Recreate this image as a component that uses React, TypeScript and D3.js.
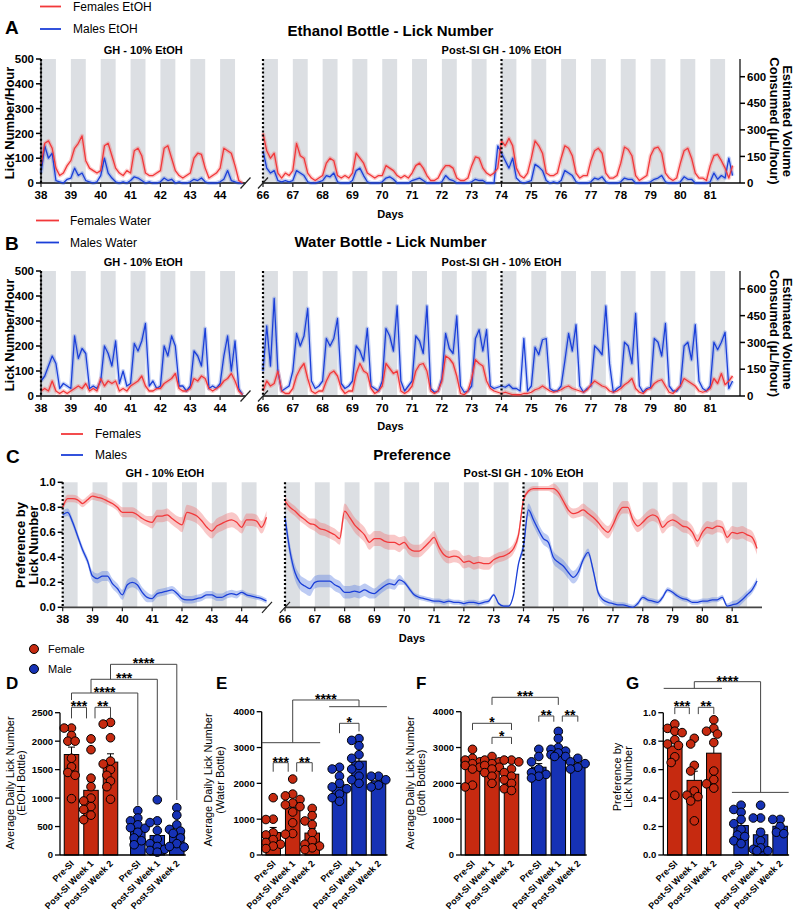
import * as d3 from "d3";

const FONT = "'Liberation Sans', Arial, Helvetica, sans-serif";

// ---------- A: ethanol bottle, licks/hour, 8 readings a day (3 h bins) ----------
const femalesEtohPre = [
  70, 160, 170, 140, 60, 30, 40, 70, // 38
  90, 140, 160, 190, 90, 60, 50, 40, // 39
  50, 150, 160, 110, 60, 40, 30, 50, // 40
  40, 130, 140, 110, 40, 30, 30, 40, // 41
  50, 140, 150, 100, 50, 30, 20, 30, // 42
  40, 100, 120, 115, 60, 20, 30, 40, // 43
  60, 140, 130, 120, 70, 10, 0, // 44
];
const malesEtohPre = [
  40, 150, 100, 120, 10, 5, 0, 15,
  20, 60, 30, 40, 10, 5, 0, 5,
  30, 100, 40, 20, 5, 0, 5, 0,
  10, 25, 20, 10, 0, 5, 0, 0,
  5, 20, 10, 15, 0, 5, 0, 0,
  5, 15, 10, 20, 5, 0, 0, 0,
  5, 15, 50, 10, 5, 0, 0,
];
const femalesEtohPost = [
  200, 130, 100, 120, 40, 20, 40, 30, // 66
  50, 160, 110, 100, 40, 20, 10, 20, // 67
  30, 80, 100, 90, 30, 20, 30, 20, // 68
  40, 120, 100, 80, 40, 30, 20, 30, // 69
  30, 70, 60, 50, 30, 20, 30, 20, // 70
  40, 70, 80, 60, 30, 10, 10, 20, // 71
  50, 70, 70, 60, 20, 10, 10, 20, // 72
  70, 105, 100, 60, 40, 30, 40, 60, // 73
  170, 150, 180, 150, 60, 30, 20, 40, // 74
  100, 170, 150, 120, 40, 30, 30, 40, // 75
  100, 150, 140, 110, 40, 20, 30, 30, // 76
  90, 130, 140, 120, 40, 20, 20, 30, // 77
  80, 145, 135, 110, 30, 10, 20, 30, // 78
  110, 140, 145, 120, 40, 20, 10, 20, // 79
  80, 130, 140, 100, 40, 20, 20, 10, // 80
  70, 110, 115, 90, 60, 20, 70, // 81
];
const malesEtohPost = [
  130, 60, 40, 50, 10, 5, 10, 5,
  10, 50, 40, 30, 5, 0, 0, 5,
  10, 30, 25, 40, 5, 0, 0, 0,
  10, 50, 60, 30, 5, 0, 0, 0,
  5, 20, 25, 15, 0, 0, 0, 0,
  10, 15, 20, 10, 0, 0, 0, 0,
  5, 30, 15, 10, 0, 0, 0, 0,
  5, 15, 10, 10, 0, 0, 0, 150,
  120, 90, 60, 100, 20, 5, 0, 5,
  10, 75, 65, 50, 10, 0, 5, 0,
  10, 50, 40, 30, 5, 0, 0, 0,
  5, 20, 15, 25, 5, 0, 0, 0,
  5, 20, 15, 15, 0, 0, 0, 0,
  5, 15, 20, 30, 5, 0, 0, 0,
  5, 25, 15, 15, 0, 0, 0, 0,
  5, 40, 15, 30, 20, 100, 30,
];

// ---------- B: water bottle, licks/hour ----------
const femalesWaterPre = [
  20, 30, 20, 60, 20, 10, 20, 10,
  20, 30, 40, 30, 50, 20, 30, 20,
  70, 40, 60, 50, 60, 20, 30, 20,
  40, 50, 60, 80, 40, 20, 20, 30,
  30, 50, 60, 70, 90, 30, 20, 20,
  30, 70, 60, 80, 70, 30, 20, 30,
  40, 60, 70, 90, 60, 20, 5,
];
const malesWaterPre = [
  60, 80, 120, 160, 130, 30, 50, 40,
  30, 240, 150, 190, 170, 30, 40, 30,
  60, 200, 170, 120, 220, 50, 100, 40,
  50, 210, 180, 220, 290, 40, 60, 30,
  40, 200, 160, 240, 200, 40, 40, 20,
  40, 180, 160, 120, 270, 30, 40, 30,
  50, 160, 240, 100, 220, 30, 5,
];
const femalesWaterPost = [
  20, 60, 40, 50, 100, 20, 10, 10,
  30, 80, 110, 130, 70, 20, 10, 20,
  20, 60, 90, 100, 80, 30, 10, 20,
  20, 90, 130, 100, 90, 30, 10, 20,
  40, 130, 110, 90, 100, 20, 10, 20,
  40, 100, 125, 130, 100, 20, 10, 20,
  60, 160, 150, 130, 80, 10, 5, 20,
  70, 145, 130, 120, 60, 30, 20, 15,
  10, 15, 10, 5, 5, 5, 10, 10,
  15, 25, 30, 40, 30, 20, 15, 20,
  25, 35, 40, 30, 25, 20, 15, 25,
  45, 60, 50, 40, 35, 20, 15, 20,
  30, 45, 55, 70, 30, 15, 10, 25,
  30, 50, 60, 65, 40, 15, 10, 25,
  40, 70, 60, 50, 40, 20, 15, 20,
  30, 70, 50, 90, 45, 60, 80,
];
const malesWaterPost = [
  100, 280, 120, 390, 100, 20, 30, 40,
  100, 250, 200, 240, 350, 60, 30, 40,
  60, 230, 200, 230, 310, 50, 30, 40,
  60, 200, 180, 140, 270, 40, 30, 20,
  60, 270, 240, 180, 360, 60, 20, 40,
  60, 240, 220, 170, 360, 30, 15, 20,
  70, 250, 190, 170, 320, 40, 15, 20,
  40, 230, 265, 180, 265, 40, 30, 35,
  40, 35, 45, 30, 30, 20, 230, 20,
  40, 195, 165, 225, 230, 30, 20, 20,
  40, 140, 250, 180, 285, 40, 15, 30,
  40, 200, 185, 165, 360, 130, 15, 30,
  40, 215, 200, 130, 330, 40, 15, 30,
  35, 230, 215, 160, 290, 40, 20, 20,
  40, 200, 215, 145, 285, 60, 30, 20,
  40, 215, 185, 215, 255, 30, 60,
];

// ---------- C: preference, 6 readings a day (4 h bins), SEM per day ----------
const femalesPrefPre = [
  0.8, 0.87, 0.87, 0.86, 0.83, 0.86,
  0.89, 0.88, 0.87, 0.85, 0.83, 0.8,
  0.76, 0.76, 0.76, 0.74, 0.71, 0.69,
  0.68, 0.73, 0.73, 0.74, 0.71, 0.68,
  0.66, 0.76, 0.75, 0.73, 0.69, 0.64,
  0.61, 0.65, 0.67, 0.69, 0.7, 0.68,
  0.64, 0.7, 0.7, 0.69, 0.64, 0.72,
];
const malesPrefPre = [
  0.74, 0.76, 0.68, 0.57, 0.46, 0.37,
  0.25, 0.23, 0.25, 0.25, 0.19, 0.15,
  0.1, 0.18, 0.2, 0.18, 0.12, 0.08,
  0.07, 0.11, 0.12, 0.13, 0.14, 0.11,
  0.07, 0.06, 0.06, 0.07, 0.08, 0.1,
  0.1, 0.08, 0.08, 0.1, 0.11, 0.1,
  0.12, 0.1, 0.09, 0.08, 0.07, 0.05,
];
const femalesPrefPost = [
  0.85, 0.8, 0.77, 0.73, 0.7, 0.67,
  0.66, 0.63, 0.62, 0.6, 0.58, 0.55,
  0.77, 0.72, 0.66, 0.62, 0.58, 0.52,
  0.55, 0.55, 0.53, 0.52, 0.52, 0.5,
  0.52, 0.47, 0.45, 0.45, 0.48, 0.52,
  0.56, 0.48, 0.42, 0.4, 0.41, 0.4,
  0.36, 0.37, 0.35, 0.36, 0.35, 0.35,
  0.38, 0.4, 0.41, 0.43, 0.47, 0.58,
  0.86, 0.93, 0.95, 0.95, 0.95, 0.95,
  0.95, 0.92, 0.85, 0.78, 0.75, 0.76,
  0.78, 0.75, 0.72, 0.68, 0.63, 0.6,
  0.66, 0.75, 0.8, 0.8, 0.7, 0.65,
  0.68, 0.72, 0.74, 0.72, 0.64, 0.68,
  0.7, 0.68, 0.65, 0.64, 0.6, 0.53,
  0.6, 0.64, 0.63, 0.65, 0.64, 0.56,
  0.6, 0.59, 0.6, 0.58, 0.56, 0.47,
];
const malesPrefPost = [
  0.72, 0.45, 0.28, 0.2, 0.17, 0.15,
  0.2, 0.21, 0.21, 0.21, 0.18, 0.16,
  0.12, 0.12, 0.13, 0.12, 0.14, 0.12,
  0.11, 0.14, 0.17, 0.19, 0.18, 0.22,
  0.2, 0.15, 0.1, 0.08, 0.07, 0.06,
  0.05, 0.05, 0.04, 0.05, 0.04, 0.04,
  0.03, 0.04, 0.04, 0.03, 0.04, 0.05,
  0.1, 0.03, 0.01, 0.01, 0.1, 0.35,
  0.49, 0.78, 0.7, 0.62, 0.55, 0.52,
  0.4, 0.36, 0.33, 0.28, 0.24, 0.28,
  0.38, 0.44, 0.3, 0.12, 0.06, 0.04,
  0.03, 0.02, 0.02, 0.01, 0.0, 0.03,
  0.08, 0.06, 0.05, 0.04, 0.08, 0.14,
  0.12, 0.09, 0.07, 0.06, 0.04, 0.04,
  0.05, 0.05, 0.06, 0.06, 0.08, 0.01,
  0.02, 0.03, 0.06, 0.1, 0.14, 0.21,
];
const femalesPrefSemPre = [0.03, 0.03, 0.04, 0.05, 0.06, 0.06, 0.05];
const femalesPrefSemPost = [0.04, 0.05, 0.06, 0.06, 0.05, 0.05, 0.05, 0.04, 0.02, 0.04, 0.05, 0.05, 0.05, 0.05, 0.05, 0.05];
const malesPrefSemPre = [0.03, 0.04, 0.04, 0.03, 0.03, 0.03, 0.02];
const malesPrefSemPost = [0.06, 0.05, 0.05, 0.04, 0.02, 0.02, 0.02, 0.01, 0.05, 0.05, 0.03, 0.02, 0.02, 0.02, 0.02, 0.03];

// axes
const daysPre = d3.range(38, 45);
const daysPost = d3.range(66, 82);
const PRE_DOMAIN: [number, number] = [38, 44.85];
const POST_DOMAIN: [number, number] = [66, 82];
const lickTicks = [0, 100, 200, 300, 400, 500];
const volumeTicks = [0, 150, 300, 450, 600];
const prefTicks = [0, 0.2, 0.4, 0.6, 0.8, 1.0];

// ---------- D–G: per-animal averages ----------
const categories = ["Pre-SI", "Post-SI Week 1", "Post-SI Week 2", "Pre-SI", "Post-SI Week 1", "Post-SI Week 2"];
const catPos = [0, 1, 2, 3.4, 4.4, 5.4];

const etohFemale = [
  [2230, 2230, 2100, 2000, 2000, 1700, 1550, 1450, 1400, 990],
  [2040, 1850, 1350, 1200, 1000, 950, 850, 800, 700, 620],
  [2330, 2300, 2060, 1650, 1600, 1500, 1400, 1300, 1200, 980],
];
const etohMale = [
  [780, 650, 600, 530, 480, 470, 400, 300, 250, 180],
  [970, 600, 570, 430, 280, 200, 150, 100, 80, 50],
  [830, 700, 530, 450, 420, 380, 300, 200, 150, 140],
];
const waterFemale = [
  [1600, 1000, 990, 620, 560, 430, 350, 300, 250, 180],
  [2120, 1700, 1650, 1550, 1450, 1400, 1350, 1200, 900, 600, 580],
  [1300, 1100, 950, 850, 620, 400, 300, 250, 200, 150],
];
const waterMale = [
  [2450, 2400, 2200, 2000, 1900, 1850, 1700, 1600, 1500],
  [3250, 3200, 3050, 2800, 2700, 2500, 2400, 2200, 2100, 2000],
  [2200, 2200, 2100, 1950, 1900],
];
const bothFemale = [
  [2950, 2700, 2650, 2600, 2550, 2500, 2450, 2400, 1950, 1900],
  [2750, 2650, 2600, 2550, 2500, 2450, 2400, 2300, 2200, 2000],
  [2650, 2650, 2600, 2400, 2300, 2200, 2100, 2000, 1850, 1800],
];
const bothMale = [
  [2950, 2750, 2600, 2400, 2300, 2250, 2200, 2150],
  [3450, 3250, 3000, 2950, 2900, 2850, 2800, 2750, 2750],
  [2700, 2600, 2550, 2450, 2400],
];
const prefFemale = [
  [0.92, 0.89, 0.87, 0.86, 0.81, 0.78, 0.77, 0.69, 0.65, 0.42],
  [0.82, 0.78, 0.63, 0.59, 0.45, 0.42, 0.41, 0.38, 0.24],
  [0.95, 0.89, 0.87, 0.85, 0.79, 0.59, 0.53, 0.5, 0.47],
];
const prefMale = [
  [0.35, 0.32, 0.3, 0.25, 0.22, 0.18, 0.14, 0.13, 0.1, 0.08],
  [0.35, 0.26, 0.26, 0.16, 0.1, 0.05, 0.04, 0.03, 0.03],
  [0.25, 0.25, 0.2, 0.16, 0.15],
];

type Bracket = { a: number; b: number; level: number; legA: number; legB: number; label: string; dxA?: number; dxB?: number };
type GroupLine = { from: number; to: number; level: number };

const etohBrackets: Bracket[] = [
  { a: 0, b: 1, dxB: -4.5, level: 2595, legA: 2400, legB: 2400, label: "***" },
  { a: 1, b: 2, dxA: 4, level: 2595, legA: 2400, legB: 2400, label: "**" },
  { a: 0, b: 3, level: 2846, legA: 2723, legB: 870, label: "****" },
  { a: 1, b: 4, level: 3087, legA: 2846, legB: 1025, label: "***" },
  { a: 2, b: 5, level: 3350, legA: 3087, legB: 966, label: "****" },
];
const waterBrackets: Bracket[] = [
  { a: 1, b: 4, level: 4327, legA: 3135, legB: 4140, label: "****" },
  { a: 0, b: 1, dxB: -4.5, level: 2577, legA: 2325, legB: 2325, label: "***" },
  { a: 1, b: 2, dxA: 4, level: 2577, legA: 2325, legB: 2325, label: "**" },
  { a: 3, b: 4, level: 3676, legA: 3400, legB: 3450, label: "*" },
];
const waterGroupLines: GroupLine[] = [
  { from: -0.58, to: 2.41, level: 3135 },
  { from: 2.87, to: 5.83, level: 4140 },
];
const bothBrackets: Bracket[] = [
  { a: 1, b: 4, level: 4402, legA: 4190, legB: 4190, label: "***" },
  { a: 0, b: 2, level: 3676, legA: 3490, legB: 3490, label: "*" },
  { a: 1, b: 2, level: 3285, legA: 3098, legB: 3098, label: "*" },
  { a: 3, b: 4, dxB: -4.5, level: 3880, legA: 3721, legB: 3721, label: "**" },
  { a: 4, b: 5, dxA: 4, level: 3880, legA: 3721, legB: 3721, label: "**" },
];
const prefBrackets: Bracket[] = [
  { a: 1, b: 4, level: 1.218, legA: 1.171, legB: 0.44, label: "****" },
  { a: 0, b: 1, dxB: -5, level: 1.038, legA: 0.99, legB: 0.99, label: "***" },
  { a: 1, b: 2, dxA: 4, level: 1.038, legA: 0.99, legB: 0.99, label: "**" },
];
const prefGroupLines: GroupLine[] = [
  { from: -0.57, to: 2.42, level: 1.171 },
  { from: 2.93, to: 5.84, level: 0.44 },
];

const RED_LINE = "#f2383a";
const BLUE_LINE = "#1b3fd8";
const RED_BAND = "rgba(242, 90, 90, 0.3)";
const BLUE_BAND = "rgba(70, 110, 225, 0.3)";
const RED_BAR = "#c62a10";
const BLUE_BAR = "#1632b5";
const GREY = "#dcdfe3";

type Series = {
  pre: number[];
  post: number[];
  perDay: number;
  color: string;
  band: string;
  semPre?: number[];
  semPost?: number[];
};

type Pt = { d: number; v: number; e: number };

function TimePanel(props: {
  top: number;
  bottom: number;
  xPre: [number, number];
  xPost: [number, number];
  yMax: number;
  yTicks: number[];
  yFmt: (v: number) => string;
  rightMax?: number;
  series: Series[];
  smooth?: boolean;
  axisDotted?: boolean;
}) {
  const { top, bottom, yMax, yTicks, yFmt, rightMax, series, smooth, axisDotted } = props;
  const xa = d3.scaleLinear().domain(PRE_DOMAIN).range(props.xPre);
  const xb = d3.scaleLinear().domain(POST_DOMAIN).range(props.xPost);
  const y = d3.scaleLinear().domain([0, yMax]).range([bottom, top]);
  const segs = [
    { x: xa, start: 38, days: daysPre, pre: true },
    { x: xb, start: 66, days: daysPost, pre: false },
  ];
  const curve = smooth ? d3.curveMonotoneX : d3.curveLinear;

  return (
    <g>
      {segs.map((seg, si) => (
        <g key={si}>
          {seg.days.map((d) => (
            <rect key={d} x={seg.x(d)} y={top} width={seg.x(d + 0.5) - seg.x(d)} height={bottom - top} fill={GREY} />
          ))}
          <line x1={seg.x.range()[0]} x2={seg.x.range()[1]} y1={bottom} y2={bottom} stroke="#444" strokeWidth={1.8} />
          {series.map((s, k) => {
            const vals = seg.pre ? s.pre : s.post;
            const sem = seg.pre ? s.semPre : s.semPost;
            const pts: Pt[] = vals.map((v, i) => ({
              d: seg.start + i / s.perDay,
              v,
              e: sem ? sem[Math.floor(i / s.perDay)] : 0,
            }));
            const line = d3.line<Pt>().x((p) => seg.x(p.d)).y((p) => y(p.v)).curve(curve);
            const area = d3
              .area<Pt>()
              .x((p) => seg.x(p.d))
              .y0((p) => y(Math.max(0, p.v - p.e)))
              .y1((p) => y(p.v + p.e))
              .curve(curve);
            return sem ? (
              <path key={k} d={area(pts) || ""} fill={s.band} />
            ) : (
              <path key={k} d={line(pts) || ""} fill="none" stroke={s.band} strokeWidth={4} strokeLinejoin="round" />
            );
          })}
          {series.map((s, k) => {
            const vals = seg.pre ? s.pre : s.post;
            const pts: Pt[] = vals.map((v, i) => ({ d: seg.start + i / s.perDay, v, e: 0 }));
            const line = d3.line<Pt>().x((p) => seg.x(p.d)).y((p) => y(p.v)).curve(curve);
            return <path key={k} d={line(pts) || ""} fill="none" stroke={s.color} strokeWidth={1.3} strokeLinejoin="round" />;
          })}
          {seg.days.map((d) => (
            <g key={d}>
              <line x1={seg.x(d)} x2={seg.x(d)} y1={bottom} y2={bottom + 4} stroke="#222" strokeWidth={1.2} />
              <text x={seg.x(d)} y={bottom + 15.5} textAnchor="middle" fontSize={11.5} fontWeight="bold">
                {d}
              </text>
            </g>
          ))}
        </g>
      ))}
      {/* left axis */}
      {!axisDotted && <line x1={xa(38)} x2={xa(38)} y1={top} y2={bottom} stroke="#000" strokeWidth={1.2} />}
      {yTicks.map((t) => (
        <g key={t}>
          <line x1={xa(38) - 5} x2={xa(38)} y1={y(t)} y2={y(t)} stroke="#000" strokeWidth={1.5} />
          <text x={xa(38) - 7} y={y(t)} dy="0.36em" textAnchor="end" fontSize={11.5} fontWeight="bold">
            {yFmt(t)}
          </text>
        </g>
      ))}
      {/* dotted markers: start of each period and social isolation */}
      {[xa(38), xb(66), xb(74)].map((x, i) => (
        <line key={i} x1={x} x2={x} y1={top} y2={bottom} stroke="#000" strokeWidth={2.2} strokeDasharray="2,2.2" />
      ))}
      {/* axis break marks */}
      {[xa(PRE_DOMAIN[1]), xb(66)].map((x, i) => (
        <line key={i} x1={x - 5} x2={x + 5} y1={bottom + 5.5} y2={bottom - 5.5} stroke="#222" strokeWidth={1.2} />
      ))}
      {rightMax !== undefined && <RightAxis x={xb(82)} top={top} bottom={bottom} max={rightMax} />}
    </g>
  );
}

function RightAxis({ x, top, bottom, max }: { x: number; top: number; bottom: number; max: number }) {
  const y = d3.scaleLinear().domain([0, max]).range([bottom, top]);
  return (
    <g>
      <line x1={x} x2={x} y1={top} y2={bottom} stroke="#000" strokeWidth={1.2} />
      {volumeTicks.map((t) => (
        <g key={t}>
          <line x1={x} x2={x + 5} y1={y(t)} y2={y(t)} stroke="#000" strokeWidth={1.5} />
          <text x={x + 7} y={y(t)} dy="0.36em" fontSize={11.5} fontWeight="bold">
            {t}
          </text>
        </g>
      ))}
      <g transform={`translate(${x + 41},${(top + bottom) / 2}) rotate(90)`}>
        <text y={-6.5} textAnchor="middle" dominantBaseline="central" fontSize={13} fontWeight="bold">
          Estimated Volume
        </text>
        <text y={6.5} textAnchor="middle" dominantBaseline="central" fontSize={13} fontWeight="bold">
          Consumed (µL/hour)
        </text>
      </g>
    </g>
  );
}

function Legend({ x0, x1, tx, items }: { x0: number; x1: number; tx: number; items: { label: string; y: number; color: string }[] }) {
  return (
    <g>
      {items.map((it) => (
        <g key={it.label}>
          <line x1={x0} x2={x1} y1={it.y} y2={it.y} stroke={it.color} strokeWidth={1.8} />
          <text x={tx} y={it.y} dy="0.35em" fontSize={12}>
            {it.label}
          </text>
        </g>
      ))}
    </g>
  );
}

// collision-avoiding horizontal spread for scatter points (overlap allowed, as in the source)
function swarm(vals: number[], y: (v: number) => number, r: number) {
  const placed: { x: number; y: number }[] = [];
  const out: number[] = new Array(vals.length).fill(0);
  const order = vals.map((_, i) => i).sort((a, b) => vals[b] - vals[a]);
  const cands = [0, -1, 1, -2, 2].map((k) => k * r * 0.85);
  for (const i of order) {
    const py = y(vals[i]);
    let best = cands[0];
    let bestDist = -1;
    for (const c of cands) {
      const dmin = placed.length ? Math.min(...placed.map((p) => Math.hypot(p.x - c, p.y - py))) : Infinity;
      if (dmin >= r * 1.55) {
        best = c;
        bestDist = Infinity;
        break;
      }
      if (dmin > bestDist) {
        bestDist = dmin;
        best = c;
      }
    }
    placed.push({ x: best, y: py });
    out[i] = best;
  }
  return out;
}

function BarPanel(props: {
  axisX: number;
  yMax: number;
  yTop: number;
  yTicks: number[];
  yFmt: (v: number) => string;
  female: number[][];
  male: number[][];
  brackets: Bracket[];
  groupLines?: GroupLine[];
  titleX: number;
  titleY: number;
  title: string[];
  letter: string;
  letterX: number;
}) {
  const { axisX, yMax, yTop, yTicks, yFmt, female, male, brackets, groupLines = [] } = props;
  const base = 855;
  const y = d3.scaleLinear().domain([0, yMax]).range([base, yTop]);
  const x = d3.scaleLinear().domain([0, 1]).range([axisX + 11.5, axisX + 31]);
  const groups = [...female, ...male];
  const barW = 14.5;
  const r = 4.3;
  return (
    <g>
      <text x={props.letterX} y={689} fontSize={17} fontWeight="bold">
        {props.letter}
      </text>
      {groups.map((vals, gi) => {
        const cx = x(catPos[gi]);
        const mean = d3.mean(vals) || 0;
        const sem = (d3.deviation(vals) || 0) / Math.sqrt(vals.length);
        const fill = gi < 3 ? RED_BAR : BLUE_BAR;
        const offs = swarm(vals, y, r);
        return (
          <g key={gi}>
            <rect x={cx - barW / 2} y={y(mean)} width={barW} height={base - y(mean)} fill={fill} stroke="#000" strokeWidth={1} />
            <line x1={cx} x2={cx} y1={y(mean)} y2={y(mean + sem)} stroke="#000" strokeWidth={1} />
            <line x1={cx - 3.5} x2={cx + 3.5} y1={y(mean + sem)} y2={y(mean + sem)} stroke="#000" strokeWidth={1} />
            {vals.map((v, i) => (
              <circle key={i} cx={cx + offs[i]} cy={y(v)} r={r} fill={fill} stroke="#000" strokeWidth={1} />
            ))}
            <text
              transform={`translate(${cx + 1},${base + 7}) rotate(-45)`}
              textAnchor="end"
              dominantBaseline="central"
              fontSize={9}
              fontWeight="bold"
            >
              {categories[gi]}
            </text>
          </g>
        );
      })}
      {/* axes */}
      <line x1={axisX} x2={axisX} y1={base} y2={yTop} stroke="#000" strokeWidth={1.3} />
      <line x1={axisX} x2={x(catPos[5]) + 9} y1={base} y2={base} stroke="#000" strokeWidth={1.3} />
      {yTicks.map((t) => (
        <g key={t}>
          <line x1={axisX - 5} x2={axisX} y1={y(t)} y2={y(t)} stroke="#000" strokeWidth={1.3} />
          <text x={axisX - 7} y={y(t)} dy="0.36em" textAnchor="end" fontSize={9.5} fontWeight="bold">
            {yFmt(t)}
          </text>
        </g>
      ))}
      <g transform={`translate(${props.titleX},${props.titleY}) rotate(-90)`}>
        {props.title.map((t, i) => (
          <text
            key={i}
            y={(i - (props.title.length - 1) / 2) * 11.5}
            textAnchor="middle"
            dominantBaseline="central"
            fontSize={11}
          >
            {t}
          </text>
        ))}
      </g>
      {/* significance */}
      {groupLines.map((g, i) => (
        <line key={i} x1={x(g.from)} x2={x(g.to)} y1={y(g.level)} y2={y(g.level)} stroke="#444" strokeWidth={1} />
      ))}
      {brackets.map((b, i) => {
        const xa = x(catPos[b.a]) + (b.dxA || 0);
        const xb = x(catPos[b.b]) + (b.dxB || 0);
        const yl = y(b.level);
        return (
          <g key={i}>
            <path
              d={`M${xa},${y(b.legA)}V${yl}H${xb}V${y(b.legB)}`}
              fill="none"
              stroke="#444"
              strokeWidth={1}
            />
            <text x={(xa + xb) / 2} y={yl + 4} textAnchor="middle" fontSize={14} fontWeight="bold">
              {b.label}
            </text>
          </g>
        );
      })}
    </g>
  );
}

export default function App() {
  const fmtInt = (v: number) => String(v);
  const fmt1 = (v: number) => v.toFixed(1);
  const xPreAB: [number, number] = [41, 245.5];
  const xPostAB: [number, number] = [263, 740];
  const xPreC: [number, number] = [62.7, 267];
  const xPostC: [number, number] = [285, 762];
  const preCenterAB = (xPreAB[0] + xPreAB[1]) / 2;
  const x74AB = d3.scaleLinear().domain(POST_DOMAIN).range(xPostAB)(74);
  const preCenterC = (xPreC[0] + xPreC[1]) / 2;
  const x74C = d3.scaleLinear().domain(POST_DOMAIN).range(xPostC)(74);

  return (
    <svg
      width={797}
      height={917}
      viewBox="0 0 797 917"
      style={{ position: "absolute", left: 0, top: 0, background: "#fff" }}
      fontFamily={FONT}
    >
      <rect width={797} height={917} fill="#fff" />

      {/* ---------- A ---------- */}
      <Legend
        x0={40}
        x1={61}
        tx={73}
        items={[
          { label: "Females EtOH", y: 6.5, color: RED_LINE },
          { label: "Males EtOH", y: 29, color: BLUE_LINE },
        ]}
      />
      <text x={5} y={34} fontSize={19} fontWeight="bold">A</text>
      <text x={390.5} y={36} textAnchor="middle" fontSize={15} fontWeight="bold">Ethanol Bottle - Lick Number</text>
      <text x={preCenterAB} y={53.5} textAnchor="middle" fontSize={11} fontWeight="bold">GH - 10% EtOH</text>
      <text x={x74AB} y={53.5} textAnchor="middle" fontSize={11} fontWeight="bold">Post-SI GH - 10% EtOH</text>
      <text transform="translate(9.5,123) rotate(-90)" textAnchor="middle" dominantBaseline="central" fontSize={13} fontWeight="bold">
        Lick Number/Hour
      </text>
      <TimePanel
        top={59}
        bottom={183}
        xPre={xPreAB}
        xPost={xPostAB}
        yMax={500}
        yTicks={lickTicks}
        yFmt={fmtInt}
        rightMax={700}
        series={[
          { pre: malesEtohPre, post: malesEtohPost, perDay: 8, color: BLUE_LINE, band: BLUE_BAND },
          { pre: femalesEtohPre, post: femalesEtohPost, perDay: 8, color: RED_LINE, band: RED_BAND },
        ]}
      />
      <text x={390.5} y={218} textAnchor="middle" fontSize={11} fontWeight="bold">Days</text>

      {/* ---------- B ---------- */}
      <Legend
        x0={36}
        x1={59}
        tx={70}
        items={[
          { label: "Females Water", y: 220.5, color: RED_LINE },
          { label: "Males Water", y: 242.5, color: BLUE_LINE },
        ]}
      />
      <text x={5} y={250} fontSize={19} fontWeight="bold">B</text>
      <text x={390.5} y={247} textAnchor="middle" fontSize={15} fontWeight="bold">Water Bottle - Lick Number</text>
      <text x={preCenterAB} y={266} textAnchor="middle" fontSize={11} fontWeight="bold">GH - 10% EtOH</text>
      <text x={x74AB} y={266} textAnchor="middle" fontSize={11} fontWeight="bold">Post-SI GH - 10% EtOH</text>
      <text transform="translate(9.5,335) rotate(-90)" textAnchor="middle" dominantBaseline="central" fontSize={13} fontWeight="bold">
        Lick Number/Hour
      </text>
      <TimePanel
        top={271}
        bottom={396}
        xPre={xPreAB}
        xPost={xPostAB}
        yMax={500}
        yTicks={lickTicks}
        yFmt={fmtInt}
        rightMax={700}
        series={[
          { pre: malesWaterPre, post: malesWaterPost, perDay: 8, color: BLUE_LINE, band: BLUE_BAND },
          { pre: femalesWaterPre, post: femalesWaterPost, perDay: 8, color: RED_LINE, band: RED_BAND },
        ]}
      />
      <text x={390.5} y={430} textAnchor="middle" fontSize={11} fontWeight="bold">Days</text>

      {/* ---------- C ---------- */}
      <Legend
        x0={61}
        x1={83}
        tx={95}
        items={[
          { label: "Females", y: 434, color: RED_LINE },
          { label: "Males", y: 455, color: BLUE_LINE },
        ]}
      />
      <text x={6} y={463} fontSize={19} fontWeight="bold">C</text>
      <text x={412} y={460} textAnchor="middle" fontSize={15} fontWeight="bold">Preference</text>
      <text x={preCenterC} y={477} textAnchor="middle" fontSize={11} fontWeight="bold">GH - 10% EtOH</text>
      <text x={x74C} y={477} textAnchor="middle" fontSize={11} fontWeight="bold">Post-SI GH - 10% EtOH</text>
      <g transform="translate(26.5,545) rotate(-90)">
        <text y={-6.5} textAnchor="middle" dominantBaseline="central" fontSize={13} fontWeight="bold">Preference by</text>
        <text y={6.5} textAnchor="middle" dominantBaseline="central" fontSize={13} fontWeight="bold">Lick Number</text>
      </g>
      <TimePanel
        top={482.3}
        bottom={607.3}
        xPre={xPreC}
        xPost={xPostC}
        yMax={1}
        yTicks={prefTicks}
        yFmt={fmt1}
        smooth
        axisDotted
        series={[
          {
            pre: malesPrefPre,
            post: malesPrefPost,
            perDay: 6,
            color: BLUE_LINE,
            band: "rgba(90, 125, 225, 0.4)",
            semPre: malesPrefSemPre,
            semPost: malesPrefSemPost,
          },
          {
            pre: femalesPrefPre,
            post: femalesPrefPost,
            perDay: 6,
            color: RED_LINE,
            band: "rgba(240, 110, 110, 0.38)",
            semPre: femalesPrefSemPre,
            semPost: femalesPrefSemPost,
          },
        ]}
      />
      <text x={412} y={641.7} textAnchor="middle" fontSize={11} fontWeight="bold">Days</text>

      {/* ---------- D–G legend ---------- */}
      <circle cx={34} cy={649} r={4.5} fill={RED_BAR} stroke="#000" strokeWidth={1} />
      <text x={48} y={649} dy="0.35em" fontSize={11}>Female</text>
      <circle cx={34} cy={669} r={4.5} fill={BLUE_BAR} stroke="#000" strokeWidth={1} />
      <text x={48} y={669} dy="0.35em" fontSize={11}>Male</text>

      <BarPanel
        axisX={60}
        yMax={2500}
        yTop={712.7}
        yTicks={[0, 500, 1000, 1500, 2000, 2500]}
        yFmt={fmtInt}
        female={etohFemale}
        male={etohMale}
        brackets={etohBrackets}
        titleX={15.5}
        titleY={783}
        title={["Average Daily Lick Number", "(EtOH Bottle)"]}
        letter="D"
        letterX={6}
      />
      <BarPanel
        axisX={261.7}
        yMax={4000}
        yTop={711.7}
        yTicks={[0, 1000, 2000, 3000, 4000]}
        yFmt={fmtInt}
        female={waterFemale}
        male={waterMale}
        brackets={waterBrackets}
        groupLines={waterGroupLines}
        titleX={214}
        titleY={780}
        title={["Average Daily Lick Number", "(Water Bottle)"]}
        letter="E"
        letterX={216}
      />
      <BarPanel
        axisX={461}
        yMax={4000}
        yTop={711.7}
        yTicks={[0, 1000, 2000, 3000, 4000]}
        yFmt={fmtInt}
        female={bothFemale}
        male={bothMale}
        brackets={bothBrackets}
        titleX={415.5}
        titleY={783}
        title={["Average Daily Lick Number", "(Both Bottles)"]}
        letter="F"
        letterX={416}
      />
      <BarPanel
        axisX={663.3}
        yMax={1}
        yTop={712.7}
        yTicks={prefTicks}
        yFmt={fmt1}
        female={prefFemale}
        male={prefMale}
        brackets={prefBrackets}
        groupLines={prefGroupLines}
        titleX={622.5}
        titleY={777}
        title={["Preference by", "Lick Number"]}
        letter="G"
        letterX={626}
      />
    </svg>
  );
}
